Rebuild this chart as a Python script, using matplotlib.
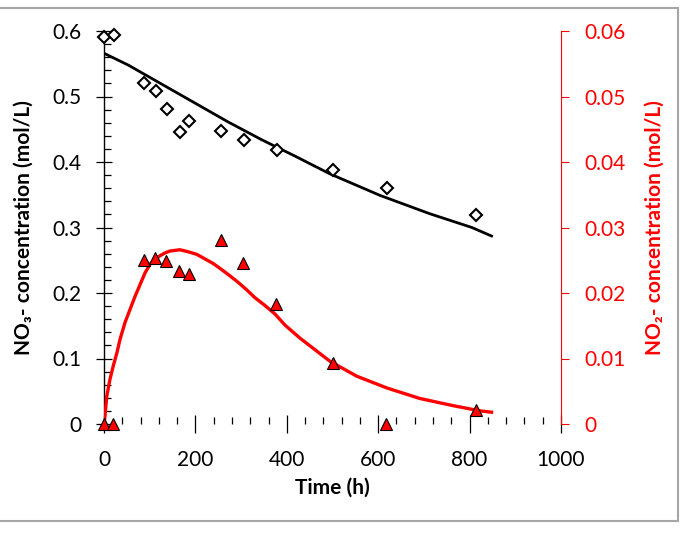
import numpy as np
import matplotlib
matplotlib.use('Agg')
import matplotlib.pyplot as plt
from matplotlib.patches import Rectangle
from matplotlib.ticker import MultipleLocator

plt.rcParams['font.family'] = ['Lato', 'DejaVu Sans']

# measured points
t_no3 = [0, 22, 88, 113, 137, 166, 185, 256, 306, 378, 500, 619, 814]
no3 = [0.591, 0.594, 0.520, 0.508, 0.481, 0.446, 0.462, 0.447, 0.433, 0.418, 0.388, 0.361, 0.319]

t_no2 = [0, 20, 88, 112, 136, 164, 185, 256, 305, 376, 500, 617, 815]
no2 = [0.0, 0.0, 0.0251, 0.0254, 0.0249, 0.0234, 0.0229, 0.0281, 0.0246, 0.0183, 0.0093, 0.0, 0.0021]

# model curves
t_fit3 = [0, 53, 126, 199, 272, 345, 418, 494, 604, 713, 805, 848]
fit3 = [0.566, 0.548, 0.519, 0.490, 0.461, 0.434, 0.409, 0.382, 0.349, 0.321, 0.300, 0.287]

t_fit2 = [0, 2, 6, 13, 20, 28, 35, 46, 57, 68, 79, 90, 101, 112, 123, 133, 144, 155,
          166, 184, 203, 221, 239, 257, 276, 294, 312, 330, 352, 374, 396, 429, 494,
          553, 619, 691, 764, 823, 848]
fit2 = [0.0, 0.0011, 0.0042, 0.0068, 0.0088, 0.0108, 0.0129, 0.0155, 0.0175, 0.0195,
        0.0213, 0.0231, 0.0244, 0.0252, 0.0257, 0.0261, 0.0264, 0.0265, 0.0266, 0.0263,
        0.0259, 0.0252, 0.0245, 0.0236, 0.0226, 0.0216, 0.0205, 0.0193, 0.0181, 0.0168,
        0.0151, 0.0131, 0.0096, 0.0073, 0.0055, 0.0039, 0.0028, 0.0020, 0.0018]

red = '#ff0000'
fs_tick = 15
fs_lab = 15

fig = plt.figure(figsize=(6.83, 5.41), dpi=100)
ax = fig.add_axes([104/683, 117/541, 457/683, 393/541])
ax2 = ax.twinx()

ax.plot(t_fit3, fit3, color='black', lw=2.0, zorder=2, solid_joinstyle='round')
ax.plot(t_no3, no3, ls='none', marker='D', ms=6.5, mfc='white', mec='black', mew=1.5,
        clip_on=False, zorder=3)

ax2.plot(t_fit2, fit2, color=red, lw=2.4, zorder=2, solid_joinstyle='round')
ax2.plot(t_no2, no2, ls='none', marker='^', ms=9, mfc=red, mec='black', mew=0.8,
         clip_on=False, zorder=3)

ax.set_xlim(0, 1000)
ax.set_ylim(0, 0.6)
ax2.set_ylim(0, 0.06)

for a in (ax, ax2):
    a.spines['top'].set_visible(False)
    a.spines['bottom'].set_visible(False)
ax.spines['right'].set_visible(False)
ax2.spines['left'].set_visible(False)
ax2.spines['right'].set_color(red)
ax2.spines['right'].set_linewidth(0.8)
ax.spines['left'].set_linewidth(1.0)

ax.xaxis.set_major_locator(MultipleLocator(200))
ax.xaxis.set_minor_locator(MultipleLocator(40))
ax.yaxis.set_major_locator(MultipleLocator(0.1))
ax.yaxis.set_minor_locator(MultipleLocator(0.02))
ax2.yaxis.set_major_locator(MultipleLocator(0.01))

ax.tick_params(axis='x', which='major', direction='inout', length=13, width=0.9,
               labelsize=fs_tick, pad=12)
ax.tick_params(axis='x', which='minor', direction='in', length=5, width=0.9)
ax.tick_params(axis='y', which='major', direction='inout', length=12, width=0.9,
               labelsize=fs_tick, pad=10)
ax.tick_params(axis='y', which='minor', direction='in', length=5, width=0.9)
ax2.tick_params(axis='y', which='major', direction='out', length=6, width=0.8,
                color=red, labelcolor=red, labelsize=fs_tick, pad=11)

ax.yaxis.set_major_formatter(plt.FuncFormatter(lambda v, p: '0' if v == 0 else f'{v:.1f}'))
ax2.yaxis.set_major_formatter(plt.FuncFormatter(lambda v, p: '0' if v == 0 else f'{v:.2f}'))

ax.set_xlabel('Time (h)', fontsize=fs_lab, fontweight='bold', labelpad=6)
ax.set_ylabel('NO₃- concentration (mol/L)', fontsize=fs_lab, fontweight='bold')
ax2.set_ylabel('NO₂- concentration (mol/L)', fontsize=fs_lab, fontweight='bold', color=red)
ax.yaxis.set_label_coords(-(104 - 34) / 457, 0.5)
ax2.yaxis.set_label_coords(1 + (645 - 561) / 457, 0.5)

fig.patches.append(Rectangle((-0.01, 20/541), 678/683 + 0.01, 513/541,
                             transform=fig.transFigure, fill=False,
                             edgecolor='#a6a6a6', lw=1.5))

fig.savefig('out.png', dpi=100)
